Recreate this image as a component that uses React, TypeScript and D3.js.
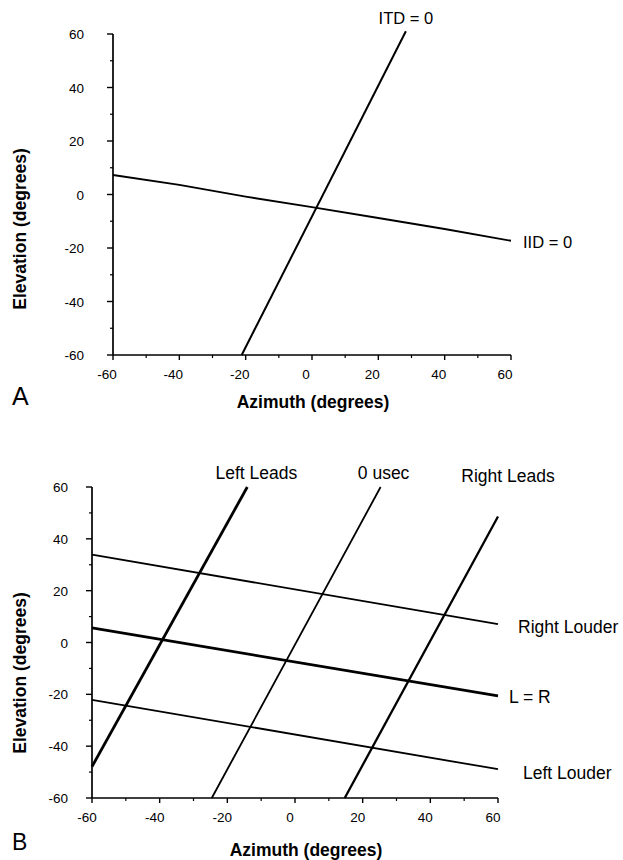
import React from "react";
import { scaleLinear, line } from "d3";

// shared axis values (degrees)
const azimuthTicks = [-60, -40, -20, 0, 20, 40, 60];
const elevationTicks = [-60, -40, -20, 0, 20, 40, 60];
const minorTicks = [-50, -30, -10, 10, 30, 50];

type Pt = { az: number; el: number };

// Panel A
const itdZero: Pt[] = [
  { az: -21.2, el: -60 },
  { az: 28.3, el: 61 },
];
const iidZero: Pt[] = [
  { az: -60, el: 7.3 },
  { az: -40, el: 3.6 },
  { az: -20, el: -0.8 },
  { az: 0, el: -4.7 },
  { az: 20, el: -8.8 },
  { az: 40, el: -12.9 },
  { az: 60, el: -17.3 },
];

// Panel B
const leftLeads: Pt[] = [
  { az: -60, el: -47.9 },
  { az: -14.1, el: 60 },
];
const zeroUsec: Pt[] = [
  { az: -24.6, el: -60 },
  { az: 25.3, el: 60 },
];
const rightLeads: Pt[] = [
  { az: 14.7, el: -60 },
  { az: 60, el: 48.6 },
];
const rightLouder: Pt[] = [
  { az: -60, el: 33.9 },
  { az: 60, el: 7.1 },
];
const lEqualsR: Pt[] = [
  { az: -60, el: 5.6 },
  { az: 60, el: -20.6 },
];
const leftLouder: Pt[] = [
  { az: -60, el: -22.1 },
  { az: 60, el: -48.9 },
];

const font = "'Liberation Sans', Arial, Helvetica, sans-serif";

type Series = {
  pts: Pt[];
  width: number;
  label: string;
  // "top" = label above the upper end, "right" = label after the right end
  at: "top" | "right";
  dx: number;
  dy: number;
};

function Panel(props: {
  x0: number;
  x1: number;
  y0: number;
  y1: number;
  labelGap: number;
  tickShift: number;
  letter: string;
  letterY: number;
  letterSize: number;
  titleX: number;
  titleY: number;
  yTitleY: number;
  labelSize: number;
  series: Series[];
}) {
  const { x0, x1, y0, y1, labelGap, tickShift, letter, letterY, letterSize, titleX, titleY, yTitleY, labelSize, series } =
    props;
  const x = scaleLinear().domain([-60, 60]).range([x0, x1]);
  const y = scaleLinear().domain([-60, 60]).range([y0, y1]);
  const path = line<Pt>()
    .x((d) => x(d.az))
    .y((d) => y(d.el));

  return (
    <g fontFamily={font} fill="#000">
      {/* axes */}
      <line x1={x(-60)} x2={x(-60)} y1={y(-60)} y2={y(60)} stroke="#000" strokeWidth={1.7} />
      <line x1={x(-60)} x2={x(60)} y1={y(-60)} y2={y(-60)} stroke="#000" strokeWidth={1.7} />
      {elevationTicks.map((t) => (
        <g key={"ey" + t}>
          <line x1={x(-60) - 6} x2={x(-60)} y1={y(t)} y2={y(t)} stroke="#000" strokeWidth={1.4} />
          <text x={x(-60) - labelGap} y={y(t) + 5} textAnchor="end" fontSize={13.5}>
            {t}
          </text>
        </g>
      ))}
      {minorTicks.map((t) => (
        <line key={"my" + t} x1={x(-60) - 3} x2={x(-60)} y1={y(t)} y2={y(t)} stroke="#000" strokeWidth={1.2} />
      ))}
      {azimuthTicks.map((t) => (
        <g key={"ax" + t}>
          <line x1={x(t)} x2={x(t)} y1={y(-60)} y2={y(-60) + 5} stroke="#000" strokeWidth={1.4} />
          <text x={x(t) + tickShift} y={y(-60) + 24} textAnchor="middle" fontSize={13.5}>
            {t}
          </text>
        </g>
      ))}
      {minorTicks.map((t) => (
        <line key={"mx" + t} x1={x(t)} x2={x(t)} y1={y(-60)} y2={y(-60) + 3} stroke="#000" strokeWidth={1.2} />
      ))}

      {/* titles */}
      <text x={titleX} y={titleY} textAnchor="middle" fontSize={17.5} fontWeight="bold">
        Azimuth (degrees)
      </text>
      <text
        transform={`translate(26,${yTitleY}) rotate(-90)`}
        textAnchor="middle"
        fontSize={17.5}
        fontWeight="bold"
      >
        Elevation (degrees)
      </text>
      <text x={12} y={letterY} fontSize={letterSize}>
        {letter}
      </text>

      {/* contour lines */}
      {series.map((s) => {
        const end = s.pts[s.pts.length - 1];
        return (
          <g key={s.label}>
            <path d={path(s.pts) ?? ""} fill="none" stroke="#000" strokeWidth={s.width} />
            <text
              x={x(end.az) + s.dx}
              y={y(end.el) + s.dy}
              textAnchor={s.at === "top" ? "middle" : "start"}
              fontSize={labelSize}
            >
              {s.label}
            </text>
          </g>
        );
      })}
    </g>
  );
}

export default function App() {
  return (
    <svg
      width={623}
      height={860}
      style={{ position: "absolute", left: 0, top: 0, background: "#fff" }}
    >
      <Panel
        x0={113}
        x1={511}
        y0={355}
        y1={34}
        labelGap={29}
        tickShift={-6}
        letter="A"
        letterY={405}
        letterSize={25}
        titleX={313}
        titleY={408}
        yTitleY={229}
        labelSize={16.5}
        series={[
          { pts: itdZero, width: 2, label: "ITD = 0", at: "top", dx: 0, dy: -7 },
          { pts: iidZero, width: 1.9, label: "IID = 0", at: "right", dx: 12, dy: 7 },
        ]}
      />
      <Panel
        x0={92}
        x1={498}
        y0={798}
        y1={487}
        labelGap={24}
        tickShift={-5}
        letter="B"
        letterY={850}
        letterSize={23}
        titleX={306}
        titleY={856}
        yTitleY={673}
        labelSize={17.5}
        series={[
          { pts: leftLeads, width: 2.8, label: "Left Leads", at: "top", dx: 9, dy: -8 },
          { pts: zeroUsec, width: 1.8, label: "0 usec", at: "top", dx: 3, dy: -8 },
          { pts: rightLeads, width: 2.3, label: "Right Leads", at: "top", dx: 10, dy: -35 },
          { pts: rightLouder, width: 1.9, label: "Right Louder", at: "right", dx: 20, dy: 9 },
          { pts: lEqualsR, width: 2.8, label: "L = R", at: "right", dx: 11, dy: 7 },
          { pts: leftLouder, width: 1.8, label: "Left Louder", at: "right", dx: 25, dy: 10 },
        ]}
      />
    </svg>
  );
}
